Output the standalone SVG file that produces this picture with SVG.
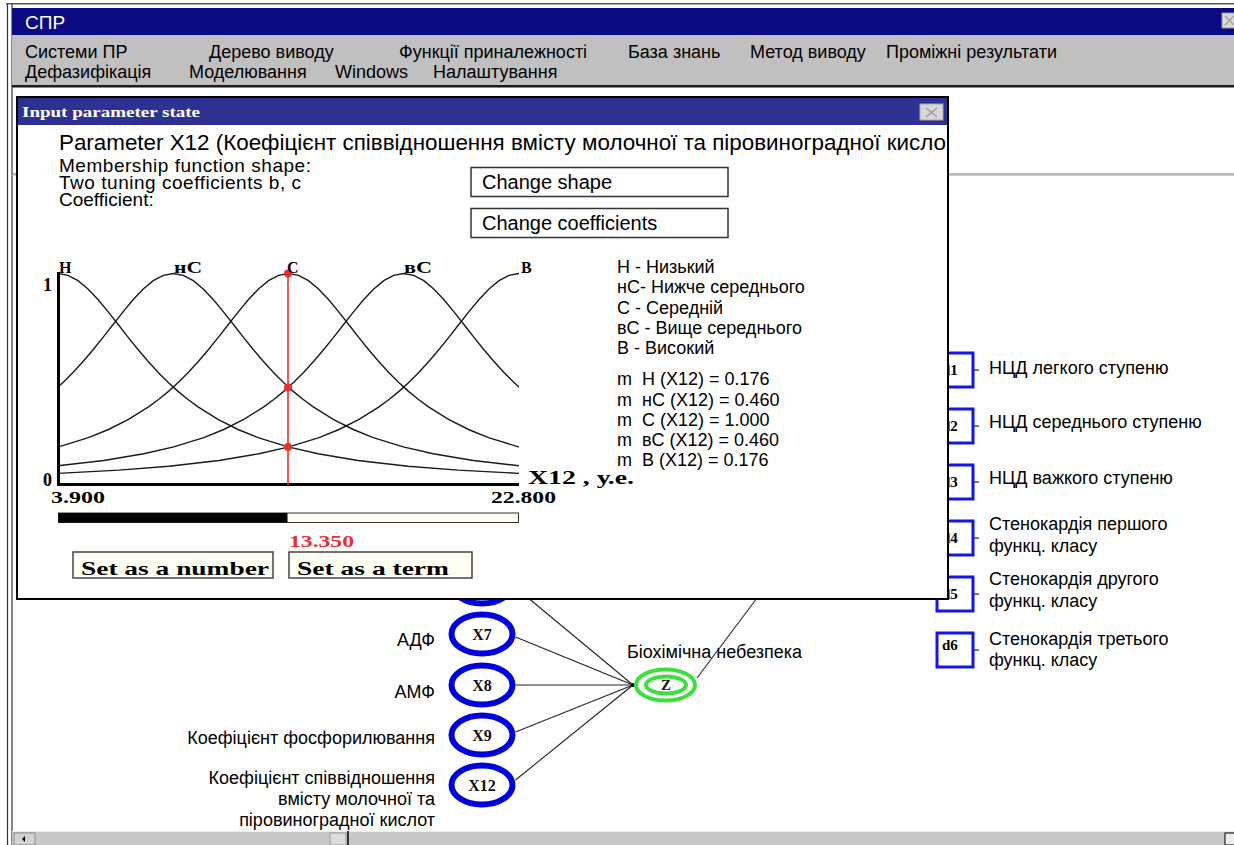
<svg xmlns="http://www.w3.org/2000/svg" width="1234" height="845" viewBox="0 0 1234 845">
<style>
.t{font-family:"Liberation Sans",Arial,sans-serif;fill:#000}
.s18{font-size:18px}
.s20{font-size:20px}
.s19{font-size:19px}
.b{font-family:"Liberation Serif","Times New Roman",serif;font-weight:bold;fill:#000}
.sf{font-family:"Liberation Serif","Times New Roman",serif;font-weight:bold;fill:#111}
.xn{fill:#fff;stroke:#0000dc;stroke-width:6}
.db{fill:#fff;stroke:#1414f0;stroke-width:3}
.zn{fill:none;stroke:#3ce03c;stroke-width:4}
.cv{fill:none;stroke:#1a1a1a;stroke-width:1.4}
.ln{stroke:#222;stroke-width:1.1;fill:none}
.btn{fill:#fff;stroke:#333;stroke-width:1.5}
.sbtn{fill:#fffff4;stroke:#444;stroke-width:1.5}
</style>
<defs>
<path id="bell" d="M-461,473.35 L-400,470.09 L-350,466.19 L-300,460.48 L-260,453.8 L-230,446.89 L-200,437.57 L-180,429.5 L-160,419.46 L-140,406.93 L-130,399.56 L-120,391.35 L-110,382.25 L-100,372.23 L-90,361.3 L-80,349.52 L-70,337.09 L-60,324.29 L-50,311.58 L-40,299.57 L-30,289 L-20,280.68 L-10,275.34 L0,273.5 L10,275.34 L20,280.68 L30,289 L40,299.57 L50,311.58 L60,324.29 L70,337.09 L80,349.52 L90,361.3 L100,372.23 L110,382.25 L120,391.35 L130,399.56 L140,406.93 L160,419.46 L180,429.5 L200,437.57 L230,446.89 L260,453.8 L300,460.48 L350,466.19 L400,470.09 L461,473.35"/>
<clipPath id="plot"><rect x="58" y="260" width="461" height="230"/></clipPath>
<clipPath id="dlgclip"><rect x="18" y="97" width="929" height="501"/></clipPath>
</defs>

<!-- main window -->
<g id="main-window">
<rect x="0" y="0" width="1234" height="845" fill="#fff"/>
<rect x="6" y="3" width="1228" height="1.5" fill="#555"/>
<line x1="7.5" y1="4" x2="7.5" y2="845" stroke="#333" stroke-width="1.2"/>
<line x1="12" y1="4" x2="12" y2="845" stroke="#333" stroke-width="1.2"/>
<rect x="12" y="8" width="1222" height="27" fill="#0a0a82"/>
<text class="t" x="25" y="29" font-size="19" style="fill:#fff">СПР</text>
<rect x="1222" y="13" width="14" height="15" fill="#d8d8d8" stroke="#999" stroke-width="1"/>
<path d="M1225,16 L1234,25 M1234,16 L1225,25" stroke="#999" stroke-width="1.2"/>
<rect x="12" y="35" width="1222" height="50" fill="#c0c0c0"/>
<rect x="12" y="85" width="1222" height="2.5" fill="#1a1a1a"/>
<g class="t s18">
<text x="25" y="58">Системи ПР</text>
<text x="209" y="58">Дерево виводу</text>
<text x="399" y="58">Функції приналежності</text>
<text x="628" y="58">База знань</text>
<text x="750" y="58">Метод виводу</text>
<text x="886" y="58">Проміжні результати</text>
<text x="25" y="78">Дефазифікація</text>
<text x="189" y="78">Моделювання</text>
<text x="335" y="78">Windows</text>
<text x="433" y="78">Налаштування</text>
</g>
<line x1="12" y1="174" x2="1234" y2="174" stroke="#777" stroke-width="1.2"/>
<line x1="12" y1="175.5" x2="1234" y2="175.5" stroke="#ccc" stroke-width="1"/>
</g>

<!-- connectors -->
<g id="connectors" class="ln">
<line x1="515" y1="587" x2="633" y2="685"/>
<line x1="515.5" y1="637" x2="633" y2="685"/>
<line x1="515.5" y1="685" x2="633" y2="685"/>
<line x1="515.5" y1="732" x2="633" y2="685"/>
<line x1="515.5" y1="780" x2="633" y2="685"/>
<line x1="697" y1="678" x2="757" y2="598"/>
<circle cx="633" cy="685" r="2" fill="#000" stroke="none"/>
</g>

<!-- input nodes -->
<g id="node-x6"><ellipse class="xn" cx="482" cy="584" rx="30.5" ry="19.5"/></g>
<g id="node-x7">
<ellipse class="xn" cx="482" cy="634" rx="30.5" ry="19.5"/>
<text class="sf" x="482" y="640" font-size="16" text-anchor="middle">X7</text>
<text class="t s18" x="435" y="646" text-anchor="end">АДФ</text>
</g>
<g id="node-x8">
<ellipse class="xn" cx="482" cy="685" rx="30.5" ry="19.5"/>
<text class="sf" x="482" y="691" font-size="16" text-anchor="middle">X8</text>
<text class="t s18" x="435" y="698" text-anchor="end">АМФ</text>
</g>
<g id="node-x9">
<ellipse class="xn" cx="482" cy="735" rx="30.5" ry="19.5"/>
<text class="sf" x="482" y="741" font-size="16" text-anchor="middle">X9</text>
<text class="t s18" x="435" y="744" text-anchor="end">Коефіцієнт фосфорилювання</text>
</g>
<g id="node-x12">
<ellipse class="xn" cx="482" cy="785" rx="30.5" ry="19.5"/>
<text class="sf" x="482" y="791" font-size="16" text-anchor="middle">X12</text>
<text class="t s18" x="435" y="784" text-anchor="end">Коефіцієнт співвідношення</text>
<text class="t s18" x="435" y="805" text-anchor="end">вмісту молочної та</text>
<text class="t s18" x="435" y="826" text-anchor="end">піровиноградної кислот</text>
</g>
<g id="node-z">
<ellipse class="zn" cx="665.5" cy="685" rx="29.5" ry="15.5"/>
<ellipse class="zn" cx="666" cy="685" rx="20" ry="8.5"/>
<text class="sf" x="666" y="690" font-size="15" text-anchor="middle">Z</text>
<text class="t s18" x="627" y="658">Біохімічна небезпека</text>
</g>

<!-- output nodes -->
<g id="node-d1">
<rect class="db" x="937" y="353" width="36" height="34"/>
<text class="b" x="942" y="375" font-size="15">d1</text>
<line x1="974" y1="370" x2="979" y2="370" stroke="#000"/>
<text class="t s18" x="989" y="374">НЦД легкого ступеню</text>
</g>
<g id="node-d2">
<rect class="db" x="937" y="409" width="36" height="34"/>
<text class="b" x="942" y="431" font-size="15">d2</text>
<line x1="974" y1="426" x2="979" y2="426" stroke="#000"/>
<text class="t s18" x="989" y="428">НЦД середнього ступеню</text>
</g>
<g id="node-d3">
<rect class="db" x="937" y="465" width="36" height="34"/>
<text class="b" x="942" y="487" font-size="15">d3</text>
<line x1="974" y1="482" x2="979" y2="482" stroke="#000"/>
<text class="t s18" x="989" y="484">НЦД важкого ступеню</text>
</g>
<g id="node-d4">
<rect class="db" x="937" y="521" width="36" height="34"/>
<text class="b" x="942" y="543" font-size="15">d4</text>
<line x1="974" y1="538" x2="979" y2="538" stroke="#000"/>
<text class="t s18" x="989" y="530">Стенокардія першого</text>
<text class="t s18" x="989" y="552">функц. класу</text>
</g>
<g id="node-d5">
<rect class="db" x="937" y="577" width="36" height="34"/>
<text class="b" x="942" y="599" font-size="15">d5</text>
<line x1="974" y1="594" x2="979" y2="594" stroke="#000"/>
<text class="t s18" x="989" y="585">Стенокардія другого</text>
<text class="t s18" x="989" y="607">функц. класу</text>
</g>
<g id="node-d6">
<rect class="db" x="937" y="633" width="36" height="34"/>
<text class="b" x="942" y="650" font-size="15">d6</text>
<line x1="974" y1="650" x2="979" y2="650" stroke="#000"/>
<text class="t s18" x="989" y="645">Стенокардія третього</text>
<text class="t s18" x="989" y="666">функц. класу</text>
</g>

<!-- scrollbar -->
<g id="scrollbar">
<rect x="12" y="831" width="1222" height="14" fill="#c8c8c8"/>
<line x1="12" y1="831.5" x2="1234" y2="831.5" stroke="#eee"/>
<rect x="14" y="833" width="21" height="12" fill="#d4d4d4" stroke="#888"/>
<path d="M22,839 L25,836 L25,842 Z" fill="#000"/>
<rect x="330" y="833" width="16" height="12" fill="#dcdcdc" stroke="#999"/>
<line x1="348" y1="831" x2="348" y2="845" stroke="#000" stroke-width="1.5"/>
<rect x="1225" y="833" width="10" height="12" fill="#eee" stroke="#000"/>
</g>

<!-- dialog -->
<g id="dialog">
<rect x="17" y="97" width="931" height="502" fill="#fff" stroke="#000" stroke-width="2"/>
<rect x="18" y="98" width="929" height="27" fill="#2e3192"/>
<text class="b" x="22" y="117" font-size="14" textLength="178" lengthAdjust="spacingAndGlyphs" style="fill:#fff">Input parameter state</text>
<rect x="920" y="104" width="23" height="16" fill="#d8d8d8" stroke="#aaa"/>
<path d="M926,108 L937,117 M937,108 L926,117" stroke="#999" stroke-width="1.3"/>
<g clip-path="url(#dlgclip)">
<text class="t" x="59" y="150" font-size="22.4" textLength="887" lengthAdjust="spacing">Parameter X12 (Коефіцієнт співвідношення вмісту молочної та піровиноградної кисло</text>
</g>
<text class="t s19" x="59" y="172" textLength="252" lengthAdjust="spacing">Membership function shape:</text>
<text class="t s19" x="59" y="189" textLength="242" lengthAdjust="spacing">Two tuning coefficients b, c</text>
<text class="t s19" x="59" y="206">Coefficient:</text>
<g id="btn-shape">
<rect class="btn" x="471" y="167.5" width="257" height="29"/>
<text class="t s20" x="482" y="189">Change shape</text>
</g>
<g id="btn-coef">
<rect class="btn" x="471" y="208.5" width="257" height="29"/>
<text class="t s20" x="482" y="230">Change coefficients</text>
</g>

<g id="chart">
<g clip-path="url(#plot)" class="cv">
<use href="#bell" transform="translate(58,0)"/>
<use href="#bell" transform="translate(173.25,0)"/>
<use href="#bell" transform="translate(288.5,0)"/>
<use href="#bell" transform="translate(403.75,0)"/>
<use href="#bell" transform="translate(519,0)"/>
</g>
<line x1="58.5" y1="272" x2="58.5" y2="486" stroke="#000" stroke-width="3"/>
<line x1="57" y1="484.5" x2="519" y2="484.5" stroke="#000" stroke-width="3"/>
<line x1="288" y1="272" x2="288" y2="485" stroke="#e83030" stroke-width="1.6"/>
<circle cx="288" cy="273.5" r="4" fill="#e83030"/>
<circle cx="288" cy="387.5" r="4" fill="#e83030"/>
<circle cx="288" cy="447" r="4" fill="#e83030"/>
<text class="b" x="59" y="273" font-size="16">Н</text>
<text class="b" x="174" y="273" font-size="16" textLength="28" lengthAdjust="spacingAndGlyphs">нС</text>
<text class="b" x="287" y="273" font-size="16">С</text>
<text class="b" x="404" y="273" font-size="16" textLength="28" lengthAdjust="spacingAndGlyphs">вС</text>
<text class="b" x="521" y="273" font-size="16">В</text>
<text class="b" x="43" y="291" font-size="18">1</text>
<text class="b" x="43" y="486" font-size="18">0</text>
<text class="b" x="528" y="484" font-size="18" textLength="106" lengthAdjust="spacingAndGlyphs">X12 , у.е.</text>
<text class="b" x="51" y="503" font-size="16" textLength="54" lengthAdjust="spacingAndGlyphs">3.900</text>
<text class="b" x="491" y="503" font-size="16" textLength="65" lengthAdjust="spacingAndGlyphs">22.800</text>
<rect x="58.5" y="513" width="460" height="9.5" fill="#fffff4" stroke="#333" stroke-width="1"/>
<rect x="58.5" y="513" width="229" height="9.5" fill="#000"/>
<text class="b" x="289" y="547" font-size="16" textLength="65" lengthAdjust="spacingAndGlyphs" style="fill:#e83030">13.350</text>
<g id="btn-number">
<rect class="sbtn" x="73" y="552" width="200" height="26"/>
<text class="b" x="81" y="575" font-size="18" textLength="188" lengthAdjust="spacingAndGlyphs">Set as a number</text>
</g>
<g id="btn-term">
<rect class="sbtn" x="289" y="552" width="183" height="26"/>
<text class="b" x="297" y="575" font-size="18" textLength="152" lengthAdjust="spacingAndGlyphs">Set as a term</text>
</g>
</g>

<g id="legend" class="t s18">
<text x="617" y="273">Н - Низький</text>
<text x="617" y="293">нС- Нижче середнього</text>
<text x="617" y="314">С - Середній</text>
<text x="617" y="334">вС - Вище середнього</text>
<text x="617" y="354">В - Високий</text>
<text x="617" y="385">m&#160; Н (X12) = 0.176</text>
<text x="617" y="406">m&#160; нС (X12) = 0.460</text>
<text x="617" y="426">m&#160; С (X12) = 1.000</text>
<text x="617" y="446">m&#160; вС (X12) = 0.460</text>
<text x="617" y="466">m&#160; В (X12) = 0.176</text>
</g>
</g>
</svg>
